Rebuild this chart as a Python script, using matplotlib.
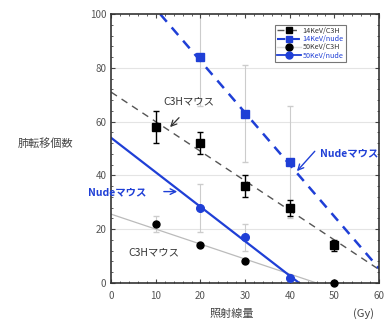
import matplotlib
matplotlib.use("Agg")
import matplotlib.pyplot as plt
from matplotlib.ticker import MultipleLocator

plt.rcParams['font.family'] = ['Noto Sans CJK JP', 'DejaVu Sans']

blue = '#1f3fd6'
gray_txt = '#555555'

# 14KeV / C3H (black squares)
c3h14_x = [10, 20, 30, 40, 50]
c3h14_y = [58, 52, 36, 28, 14]
c3h14_err = [6, 4, 4, 3, 2]
# 14KeV / nude (blue squares)
nude14_x = [20, 30, 40]
nude14_y = [84, 63, 45]
nude14_err = [18, 18, 21]
# 50KeV / C3H (black circles)
c3h50_x = [10, 20, 30, 50]
c3h50_y = [22, 14, 8, 0]
c3h50_err = [3, 0, 0, 0]
# 50KeV / nude (blue circles)
nude50_x = [20, 30, 40]
nude50_y = [28, 17, 2]
nude50_err = [9, 5, 0]

# fitted lines (end points)
fit_c3h14_x, fit_c3h14_y = [0, 60], [71, 5]
fit_nude14_x, fit_nude14_y = [11, 60], [100, 5.4]
fit_c3h50_x, fit_c3h50_y = [0, 46], [25.6, 0]
fit_nude50_x, fit_nude50_y = [0, 42.1], [54, 0]

fig = plt.figure(figsize=(3.9, 3.27), dpi=100)
ax = fig.add_axes([0.285, 0.1346, 0.687, 0.822])

for yy in [20, 40, 60, 80]:
    ax.axhline(yy, color='#e4e4e4', lw=0.8, zorder=0)

# fit lines
ax.plot(fit_c3h14_x, fit_c3h14_y, color='#555555', ls=(0, (5, 4)), lw=1.0, zorder=2)
ax.plot(fit_nude14_x, fit_nude14_y, color=blue, ls=(0, (4, 3)), lw=1.8, zorder=2)
ax.plot(fit_c3h50_x, fit_c3h50_y, color='#bbbbbb', lw=0.9, zorder=2)
ax.plot(fit_nude50_x, fit_nude50_y, color=blue, lw=1.6, zorder=2)

# error bars
ax.errorbar(nude14_x, nude14_y, yerr=nude14_err, fmt='none', ecolor='#cccccc', elinewidth=0.8, capsize=2, zorder=1)
ax.errorbar(nude50_x, nude50_y, yerr=nude50_err, fmt='none', ecolor='#cccccc', elinewidth=0.8, capsize=2, zorder=1)
ax.errorbar(c3h50_x, c3h50_y, yerr=c3h50_err, fmt='none', ecolor='#cccccc', elinewidth=0.8, capsize=2, zorder=1)
ax.errorbar(c3h14_x, c3h14_y, yerr=c3h14_err, fmt='none', ecolor='black', elinewidth=1.0, capsize=2.5, zorder=3)

# markers
ax.plot(c3h14_x, c3h14_y, 's', color='black', ms=5.5, zorder=4)
ax.plot(nude14_x, nude14_y, 's', color=blue, ms=5.5, zorder=4)
ax.plot(c3h50_x, c3h50_y, 'o', color='black', ms=5, zorder=4, clip_on=False)
ax.plot(nude50_x, nude50_y, 'o', color=blue, ms=5.5, zorder=4, clip_on=False)

# legend handles
h1, = ax.plot([], [], color='#555555', ls=(0, (5, 4)), lw=1.0, marker='s', mfc='black', mec='black', ms=5)
h2, = ax.plot([], [], color=blue, ls=(0, (4, 3)), lw=1.5, marker='s', ms=5)
h3, = ax.plot([], [], color='#dddddd', lw=1.0, marker='o', mfc='black', mec='black', ms=5)
h4, = ax.plot([], [], color=blue, lw=1.3, marker='o', ms=5)
leg = ax.legend([h1, h2, h3, h4], ['14KeV/C3H', '14KeV/nude', '50KeV/C3H', '50KeV/nude'],
                loc='upper right', bbox_to_anchor=(0.89, 0.975), fontsize=5.2, frameon=True,
                fancybox=False, edgecolor='#777777', handlelength=3.2, handletextpad=0.3,
                labelspacing=0.05, borderpad=0.3, framealpha=1)
leg.get_frame().set_linewidth(0.8)
for t, c in zip(leg.get_texts(), ['#333333', blue, '#333333', blue]):
    t.set_color(c)

# annotations
ax.text(11.6, 66.5, 'C3Hマウス', fontsize=7.5, color='#333333')
ax.annotate('', xy=(13.2, 58), xytext=(15.2, 61.5),
            arrowprops=dict(arrowstyle='->', color='#333333', lw=0.9, shrinkA=0, shrinkB=0))
ax.text(3.8, 11.5, 'C3Hマウス', fontsize=7.5, color='#333333', va='center')
ax.text(-5.1, 33.8, 'Nudeマウス', fontsize=7.5, color=blue, weight='bold', va='center', clip_on=False)
ax.annotate('', xy=(14.8, 34), xytext=(11.8, 34),
            arrowprops=dict(arrowstyle='->', color=blue, lw=1.0, shrinkA=0, shrinkB=0))
ax.text(46.8, 48.3, 'Nudeマウス', fontsize=7.5, color=blue, weight='bold', va='center', clip_on=False)
ax.annotate('', xy=(41.6, 41.6), xytext=(45.6, 49),
            arrowprops=dict(arrowstyle='->', color=blue, lw=1.0, shrinkA=0, shrinkB=0))

ax.set_xlim(0, 60)
ax.set_ylim(0, 100)
ax.xaxis.set_major_locator(MultipleLocator(10))
ax.yaxis.set_major_locator(MultipleLocator(20))
ax.xaxis.set_minor_locator(MultipleLocator(2))
ax.yaxis.set_minor_locator(MultipleLocator(4))
ax.tick_params(which='both', direction='in', top=True, right=True, labelsize=7,
               labelcolor=gray_txt, color='#444444')
ax.tick_params(which='major', length=3)
ax.tick_params(which='minor', length=1.5)
ax.tick_params(axis='x', pad=6)
for s in ax.spines.values():
    s.set_linewidth(1.2)
    s.set_color('#333333')

fig.text(45 / 390, 1 - 144 / 327, '肺転移個数', fontsize=8, color='#444444', ha='center', va='center')
fig.text(232 / 390, 1 - 314 / 327, '照射線量', fontsize=8, color='#444444', ha='center', va='center')
fig.text(363 / 390, 1 - 314 / 327, '(Gy)', fontsize=8, color='#444444', ha='center', va='center')

fig.savefig('out.png', dpi=100)
